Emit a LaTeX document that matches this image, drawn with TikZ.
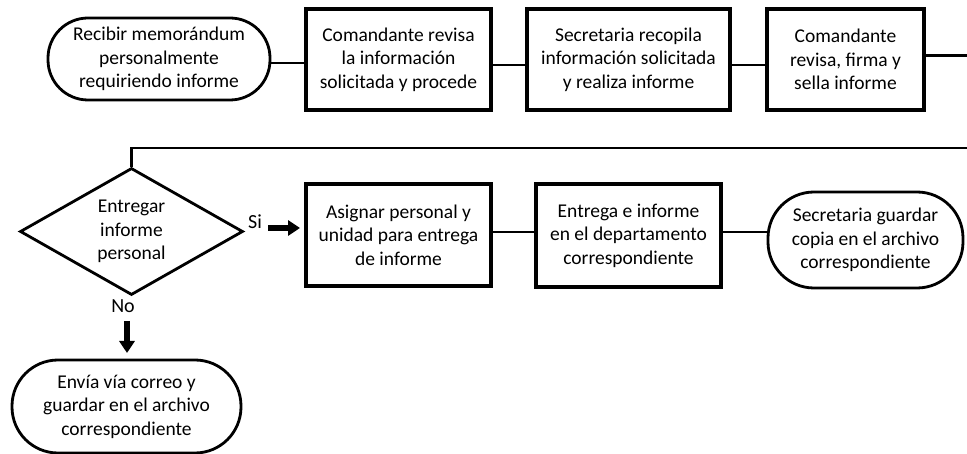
\documentclass[tikz,border=0pt]{standalone}
\usepackage{fontspec}
\setmainfont{Carlito}
\usetikzlibrary{shapes.geometric,arrows.meta}
\begin{document}
\begin{tikzpicture}[x=1pt,y=-1pt,
  every node/.style={font=\fontsize{19.5}{23.5}\selectfont, align=center, inner sep=0pt},
  procbox/.style={draw, line width=3.2pt, rectangle},
  termbox/.style={draw, line width=2.8pt, rectangle},
  decbox/.style={draw, line width=2.8pt, diamond, aspect=1.76},
  conn/.style={line width=2.2pt},
  bigarrow/.style={line width=6pt, -{Triangle[length=12pt,width=15pt]}},
  lbl/.style={font=\fontsize{20}{24}\selectfont}
]
\useasboundingbox (0,0) rectangle (967,454);
% top row
\node[termbox, rounded corners=40pt, minimum width=222pt, minimum height=82pt] (start) at (159,59)
  {Recibir memorándum\\personalmente\\requiriendo informe};
\node[procbox, minimum width=185pt, minimum height=101pt] (b1) at (398.5,59.5)
  {Comandante revisa\\la información\\solicitada y procede};
\node[procbox, minimum width=203pt, minimum height=101pt] (b2) at (628.5,59.5)
  {Secretaria recopila\\información solicitada\\y realiza informe};
\node[procbox, minimum width=157pt, minimum height=101pt] (b3) at (845.5,59.5)
  {Comandante\\revisa, firma y\\sella informe};
% second row
\node[decbox, minimum width=223pt, minimum height=127pt] (dec) at (131.5,231.5)
  {Entregar\\informe\\personal};
\node[procbox, minimum width=185pt, minimum height=102pt] (b4) at (398.5,235)
  {Asignar personal y\\unidad para entrega\\de informe};
\node[procbox, minimum width=185pt, minimum height=103pt] (b5) at (628.5,235.5)
  {Entrega e informe\\en el departamento\\correspondiente};
\node[termbox, rounded corners=46pt, minimum width=195pt, minimum height=96pt] (t2) at (865.5,240)
  {Secretaria guardar\\copia en el archivo\\correspondiente};
\node[termbox, rounded corners=46pt, minimum width=229pt, minimum height=93pt] (t3) at (126.5,406.5)
  {Envía vía correo y\\guardar en el archivo\\correspondiente};
% labels
\node[lbl] (si) at (255,222) {Si};
\node[lbl] (no) at (123,306) {No};
% coordinates
\coordinate (topout) at (967,55.5);
\coordinate (lowin) at (967,148);
\coordinate (siA) at (268,228);
\coordinate (siB) at (300,228);
\coordinate (noA) at (127,321);
\coordinate (noB) at (127,353);
% connectors
\draw[conn] (start.east |- 0,63) -- (b1.west |- 0,63);
\draw[conn] (b1.east |- 0,65) -- (b2.west |- 0,65);
\draw[conn] (b2.east |- 0,65) -- (b3.west |- 0,65);
\draw[conn] (b3.east |- topout) -- (topout);
\draw[conn] (lowin) -- (dec.north |- lowin) -- (dec.north);
\draw[conn] (b4.east |- 0,232) -- (b5.west |- 0,232);
\draw[conn] (b5.east |- 0,232) -- (t2.west |- 0,232);
\draw[bigarrow] (siA) -- (siB);
\draw[bigarrow] (noA) -- (noB);
\end{tikzpicture}
\end{document}
